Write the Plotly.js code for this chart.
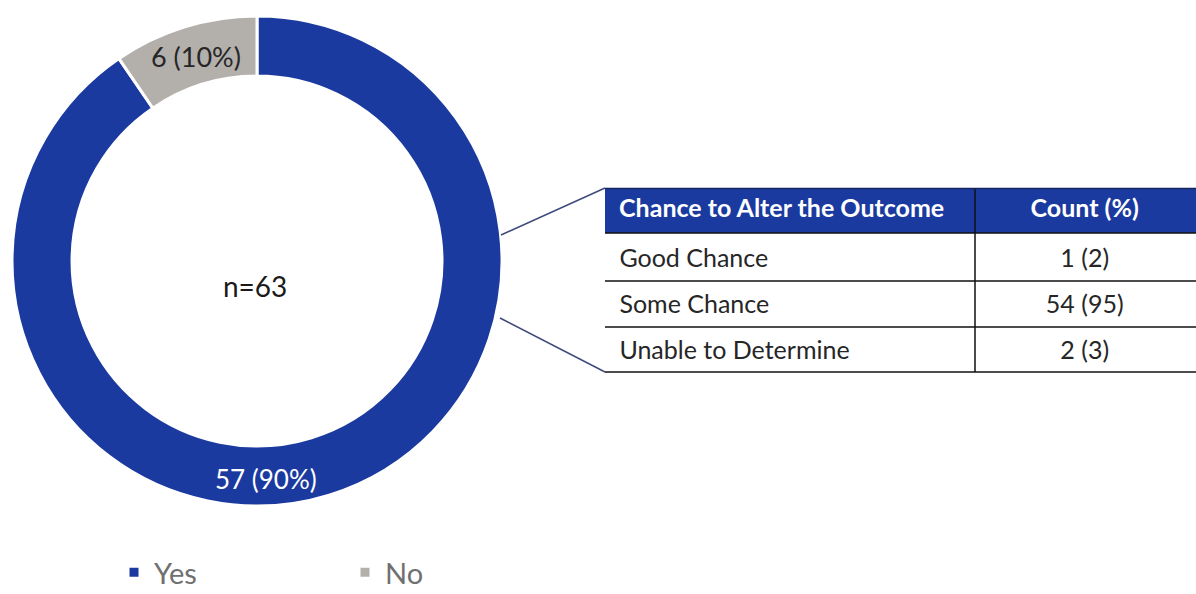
<!DOCTYPE html>
<html>
<head>
<meta charset="utf-8">
<script src="https://cdn.plot.ly/plotly-3.0.1.min.js"></script>
<style>html,body{margin:0;padding:0;background:#fff;}#chart{width:1196px;height:594px;}</style>
</head>
<body>
<div id="chart"></div>
<script>
// ---- data ----
const answerLabels = ['Yes', 'No'];
const answerCounts = [57, 6];
const answerPercents = [90, 10];
const totalN = 63;

const tableHeader = ['Chance to Alter the Outcome', 'Count (%)'];
const chanceCategories = ['Good Chance', 'Some Chance', 'Unable to Determine'];
const chanceCounts = [1, 54, 2];
const chancePercents = [2, 95, 3];

// ---- layout helpers (pixel -> paper) ----
const W = 1196, H = 594;
const px = x => x / W;
const py = y => 1 - y / H;

const FONT = 'Lato, "Liberation Sans", sans-serif';
const BLUE = '#1b3a9f';
const GRAY = '#b3b0ac';

const pie = {
  type: 'pie',
  labels: answerLabels,
  values: answerCounts,
  hole: 0.755,
  sort: false,
  direction: 'clockwise',
  rotation: 0,
  marker: {colors: [BLUE, GRAY], line: {color: '#ffffff', width: 3}},
  textinfo: 'none',
  hoverinfo: 'label+value+percent',
  domain: {x: [px(12), px(502)], y: [py(506), py(16)]},
  showlegend: true
};

// table text block (fills drawn as shapes below so text can be placed precisely)
const table = {
  type: 'table',
  domain: {x: [px(605), 1], y: [py(372 + 20), py(184)]},
  columnwidth: [370, 221],
  header: {
    values: tableHeader.map((t, i) => '<b>' + (i === 0 ? '\u00a0' : '') + t + '</b>'),
    align: ['left', 'center'],
    fill: {color: 'rgba(0,0,0,0)'},
    line: {width: 0, color: 'rgba(0,0,0,0)'},
    font: {family: FONT, size: 25, color: '#ffffff'},
    height: 56
  },
  cells: {
    values: [
      chanceCategories.map(c => '\u00a0' + c),
      chanceCounts.map((c, i) => c + ' (' + chancePercents[i] + ')')
    ],
    align: ['left', 'center'],
    fill: {color: 'rgba(0,0,0,0)'},
    line: {width: 0, color: 'rgba(0,0,0,0)'},
    font: {family: FONT, size: 25, color: '#262626'},
    height: 46
  }
};

const lineCol = '#111111';
const shapes = [
  {type: 'rect', layer: 'below', xref: 'paper', yref: 'paper', x0: px(605), x1: 1, y0: py(233), y1: py(188), fillcolor: BLUE, line: {width: 0}},
  {type: 'line', xref: 'paper', yref: 'paper', x0: px(501), y0: py(235), x1: px(605), y1: py(188), line: {color: '#3e4a7c', width: 1.5}},
  {type: 'line', xref: 'paper', yref: 'paper', x0: px(500), y0: py(318), x1: px(605), y1: py(372), line: {color: '#3e4a7c', width: 1.5}},
];
[233, 281, 327, 372].forEach(y => shapes.push({type: 'line', layer: 'below', xref: 'paper', yref: 'paper', x0: px(605), x1: 1, y0: py(y), y1: py(y), line: {color: lineCol, width: 1.5}}));
shapes.push({type: 'line', layer: 'below', xref: 'paper', yref: 'paper', x0: px(975), x1: px(975), y0: py(188), y1: py(372), line: {color: lineCol, width: 1.5}});
shapes.push({type: 'line', layer: 'below', xref: 'paper', yref: 'paper', x0: px(605), x1: 1, y0: py(188.5), y1: py(188.5), line: {color: '#14245e', width: 1.5}});

const annotations = [
  {text: answerCounts[1] + ' (' + answerPercents[1] + '%)', x: px(196), y: py(57), font: {family: FONT, size: 27, color: '#262626'}},
  {text: answerCounts[0] + ' (' + answerPercents[0] + '%)', x: px(266), y: py(479), font: {family: FONT, size: 26, color: '#ffffff'}},
  {text: 'n=' + totalN, x: px(255), y: py(286), font: {family: FONT, size: 28, color: '#1a1a1a'}}
].map(a => Object.assign({xref: 'paper', yref: 'paper', xanchor: 'center', yanchor: 'middle', showarrow: false}, a));

const layout = {
  width: W, height: H,
  margin: {l: 0, r: 0, t: 0, b: 0, pad: 0, autoexpand: false},
  paper_bgcolor: '#ffffff',
  plot_bgcolor: '#ffffff',
  showlegend: true,
  legend: {
    orientation: 'h', x: px(114), xanchor: 'left', y: py(598), yanchor: 'bottom',
    font: {family: FONT, size: 29, color: '#707070'},
    entrywidth: 186, entrywidthmode: 'pixels',
    traceorder: 'normal', bgcolor: 'rgba(0,0,0,0)'
  },
  shapes: shapes,
  annotations: annotations
};

Plotly.newPlot('chart', [pie, table], layout, {displayModeBar: false, staticPlot: true});
</script>
</body>
</html>
